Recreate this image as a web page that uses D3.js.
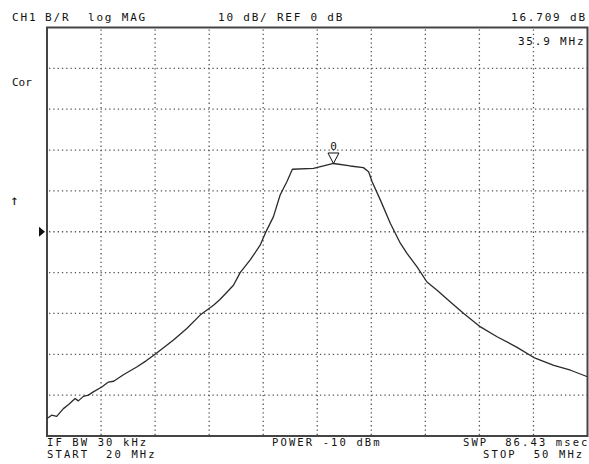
<!DOCTYPE html>
<html>
<head>
<meta charset="utf-8">
<script src="https://cdn.jsdelivr.net/npm/d3@7"></script>
<style>
  html, body { margin: 0; padding: 0; background: #fff; }
  svg { display: block; }
  text { font-family: "DejaVu Sans Mono", "Liberation Mono", monospace; font-size: 11px; fill: #111; white-space: pre; }
</style>
</head>
<body>
<svg id="chart" width="589" height="464"></svg>
<script>
// ---- data ----
const freqMHz = [20.0, 20.26, 20.54, 20.91, 21.2, 21.56, 21.74, 22.02, 22.3, 22.57, 23.04, 23.41, 23.7, 24.24, 24.98,
  25.5, 26.0, 27.02, 27.76, 28.5, 29.24, 29.6, 30.35, 30.72, 31.28, 31.83, 32.11, 32.57, 32.94, 33.32, 33.62,
  34.79, 35.35, 35.9, 36.83, 37.56, 37.85, 38.04, 38.5, 39.06, 39.61, 39.98, 40.54, 41.09, 41.65, 42.39, 43.13,
  44.06, 44.98, 46.09, 47.02, 48.13, 49.06, 50.0];
const magDb = [-45.7, -44.9, -45.2, -43.3, -42.3, -40.8, -41.4, -40.3, -40.0, -39.2, -38.0, -36.8, -36.6, -35.0, -33.1,
  -31.6, -30.0, -26.5, -23.7, -20.4, -18.0, -16.6, -13.1, -10.0, -6.9, -3.3, -0.4, 3.7, 9.0, 12.3, 15.3,
  15.5, 16.1, 16.709, 16.1, 15.7, 14.7, 12.3, 7.8, 2.0, -2.8, -5.3, -8.6, -12.3, -14.3, -17.2, -20.0,
  -23.3, -25.7, -28.3, -30.8, -32.7, -33.9, -35.5];
const freqDomain = [20, 50];
const dbDomain = [-50, 50];
const xDivisions = 10;
const yDivisions = 10;
const marker = { freq: 35.9, db: 16.709, label: "0" };
const headerTexts = [
  { t: "CH1", x: 12 }, { t: "B/R", x: 45 }, { t: "log MAG", x: 88 }, { t: "10 dB/ REF 0 dB", x: 218 }
];
const headerRight = "16.709 dB";
const markerFreqText = "35.9 MHz";
const footerTexts = [
  { t: "IF BW 30 kHz", x: 47, row: 0 }, { t: "START  20 MHz", x: 47, row: 1 },
  { t: "POWER -10 dBm", x: 272, row: 0 }, { t: "SWP  86.43 msec", x: 463, row: 0 },
  { t: "STOP  50 MHz", x: 483, row: 1 }
];
const sideTexts = [{ t: "Cor", x: 12, y: 86, size: 11 }, { t: "\u2191", x: 10, y: 205, size: 14 }];

// ---- layout ----
const svg = d3.select("#chart");
const L = 47, R = 587.5, T = 27.5, B = 436;
const pitch = 8.4;
const x = d3.scaleLinear().domain(freqDomain).range([L, R]);
const y = d3.scaleLinear().domain(dbDomain).range([B, T]);

function monoText(sel, str, xx, yy, anchorEnd, size) {
  const len = (str.length - 1) * pitch + 6.8;
  const x0 = anchorEnd ? xx - len : xx;
  const t = sel.append("text").attr("x", x0).attr("y", yy)
    .attr("textLength", len).attr("lengthAdjust", "spacing")
    .attr("xml:space", "preserve").text(str);
  if (size) t.style("font-size", size + "px");
}

// grid
const g = svg.append("g");
const xTicks = d3.range(1, xDivisions).map(i => freqDomain[0] + i * (freqDomain[1] - freqDomain[0]) / xDivisions);
const yTicks = d3.range(1, yDivisions).map(i => dbDomain[0] + i * (dbDomain[1] - dbDomain[0]) / yDivisions);
g.selectAll("line.vx").data(xTicks).join("line")
  .attr("x1", d => x(d)).attr("x2", d => x(d)).attr("y1", T + 2).attr("y2", B)
  .attr("stroke", "#555").attr("stroke-width", 1.3).attr("stroke-dasharray", "1.3,3");
g.selectAll("line.hy").data(yTicks).join("line")
  .attr("y1", d => y(d)).attr("y2", d => y(d)).attr("x1", L + 2).attr("x2", R)
  .attr("stroke", "#555").attr("stroke-width", 1.3).attr("stroke-dasharray", "1.3,3");

// frame
svg.append("rect").attr("x", L).attr("y", T).attr("width", R - L).attr("height", B - T)
  .attr("fill", "none").attr("stroke", "#444").attr("stroke-width", 2);

// trace
const pts = freqMHz.map((f, i) => [f, magDb[i]]);
svg.append("path").datum(pts)
  .attr("d", d3.line().x(d => x(d[0])).y(d => y(d[1])))
  .attr("fill", "none").attr("stroke", "#2a2a2a").attr("stroke-width", 1.3).attr("stroke-linejoin", "round");

// marker
const mx = x(marker.freq), my = y(marker.db);
svg.append("path")
  .attr("d", `M${mx},${my} L${mx - 5.5},${my - 10.5} L${mx + 5.5},${my - 10.5} Z`)
  .attr("fill", "none").attr("stroke", "#111").attr("stroke-width", 1);
svg.append("text").attr("x", mx).attr("y", my - 13).attr("text-anchor", "middle").text(marker.label);

// reference pointer
const ry = y(0);
svg.append("path").attr("d", `M39,${ry - 5} L45,${ry} L39,${ry + 5} Z`).attr("fill", "#111");

// texts
headerTexts.forEach(h => monoText(svg, h.t, h.x, 21, false));
monoText(svg, headerRight, 585, 21, true);
monoText(svg, markerFreqText, 583.5, 45, true);
footerTexts.forEach(f => monoText(svg, f.t, f.x, f.row === 0 ? 446 : 458, false, 10.5));
sideTexts.forEach(s => svg.append("text").attr("x", s.x).attr("y", s.y).style("font-size", s.size + "px").text(s.t));
</script>
</body>
</html>
